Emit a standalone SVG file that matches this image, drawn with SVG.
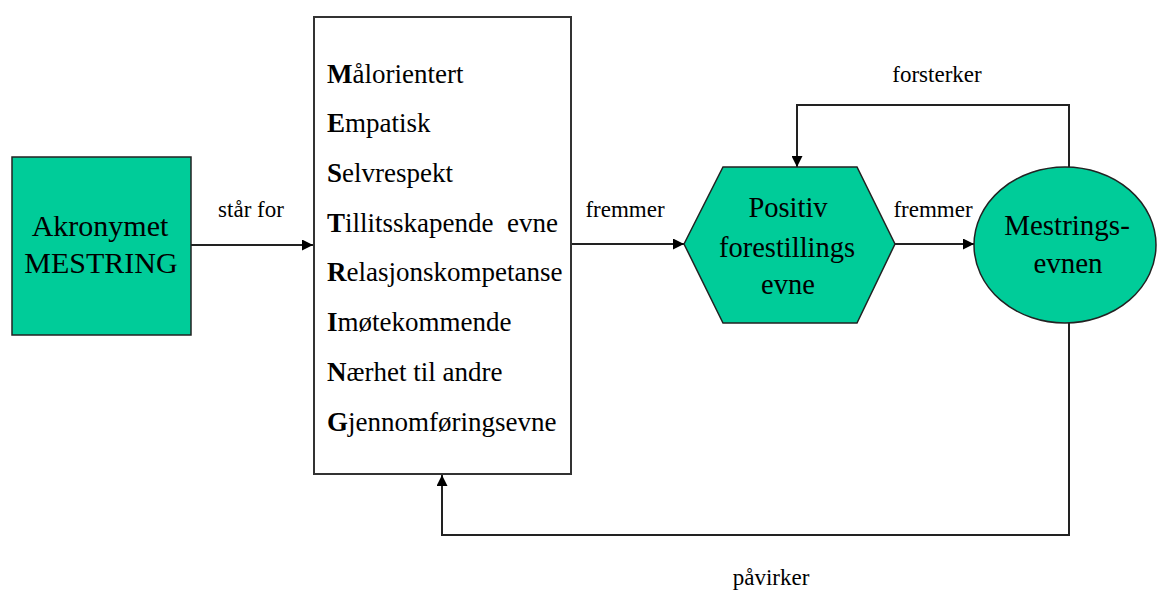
<svg xmlns="http://www.w3.org/2000/svg" width="1157" height="590" viewBox="0 0 1157 590">
  <style>
    .shape { fill: #00CC99; stroke: #222; stroke-width: 1.5; }
    .frame { fill: #fff; stroke: #333; stroke-width: 2; }
    .edge { fill: none; stroke: #222; stroke-width: 2; }
    .big { fill: #000; text-anchor: middle; }
    .list { font-size: 27px; fill: #000; }
    .b { font-weight: bold; }
    .lbl { font-size: 23px; fill: #000; text-anchor: middle; }
  </style>
  <defs>
    <marker id="arrowBig" viewBox="0 0 10 10" refX="10" refY="5" markerWidth="12" markerHeight="11" markerUnits="userSpaceOnUse" orient="auto">
      <path d="M0,0 L10,5 L0,10 z" fill="#000"/>
    </marker>
  </defs>

  <rect width="1157" height="590" fill="#fff"/>

  <g font-family="'Liberation Serif', serif">
    <!-- connectors -->
    <g id="connectors">
      <path class="edge" d="M191,245 L313,245" marker-end="url(#arrowBig)"/>
      <path class="edge" d="M571,244 L684,244" marker-end="url(#arrowBig)"/>
      <path class="edge" d="M895,244 L974,244" marker-end="url(#arrowBig)"/>
      <path class="edge" d="M1069,167 L1069,105 L797,105 L797,167" marker-end="url(#arrowBig)"/>
      <path class="edge" d="M1069,323 L1069,535 L442,535 L442,475" marker-end="url(#arrowBig)"/>
      <text class="lbl" x="251" y="217">står for</text>
      <text class="lbl" x="625" y="217">fremmer</text>
      <text class="lbl" x="933" y="217">fremmer</text>
      <text class="lbl" x="937" y="82">forsterker</text>
      <text class="lbl" x="771" y="585">påvirker</text>
    </g>

    <!-- acronym node -->
    <g id="acronym">
      <rect class="shape" x="12" y="157" width="179" height="178"/>
      <text class="big" font-size="30" x="100" y="236">Akronymet</text>
      <text class="big" font-size="30" x="101" y="273">MESTRING</text>
    </g>

    <!-- list of qualities -->
    <g id="qualities">
      <rect class="frame" x="314" y="17" width="257" height="457"/>
      <text class="list" x="327" y="83"><tspan class="b">M</tspan>ålorientert</text>
      <text class="list" x="327" y="132"><tspan class="b">E</tspan>mpatisk</text>
      <text class="list" x="327" y="182"><tspan class="b">S</tspan>elvrespekt</text>
      <text class="list" x="327" y="232" xml:space="preserve"><tspan class="b">T</tspan>illitsskapende  evne</text>
      <text class="list" x="327" y="281"><tspan class="b">R</tspan>elasjonskompetanse</text>
      <text class="list" x="327" y="331"><tspan class="b">I</tspan>møtekommende</text>
      <text class="list" x="327" y="381"><tspan class="b">N</tspan>ærhet til andre</text>
      <text class="list" x="327" y="431"><tspan class="b">G</tspan>jennomføringsevne</text>
    </g>

    <!-- imagination node -->
    <g id="imagination">
      <polygon class="shape" points="684,244 723,167 857,167 895,244 857,323 723,323"/>
      <text class="big" font-size="28.5" x="788" y="217">Positiv</text>
      <text class="big" font-size="28.5" x="787" y="257">forestillings</text>
      <text class="big" font-size="28.5" x="788" y="294">evne</text>
    </g>

    <!-- coping ability node -->
    <g id="coping">
      <ellipse class="shape" cx="1065" cy="245" rx="91" ry="78"/>
      <text class="big" font-size="29" x="1067" y="235">Mestrings-</text>
      <text class="big" font-size="29" x="1068" y="273">evnen</text>
    </g>
  </g>
</svg>
